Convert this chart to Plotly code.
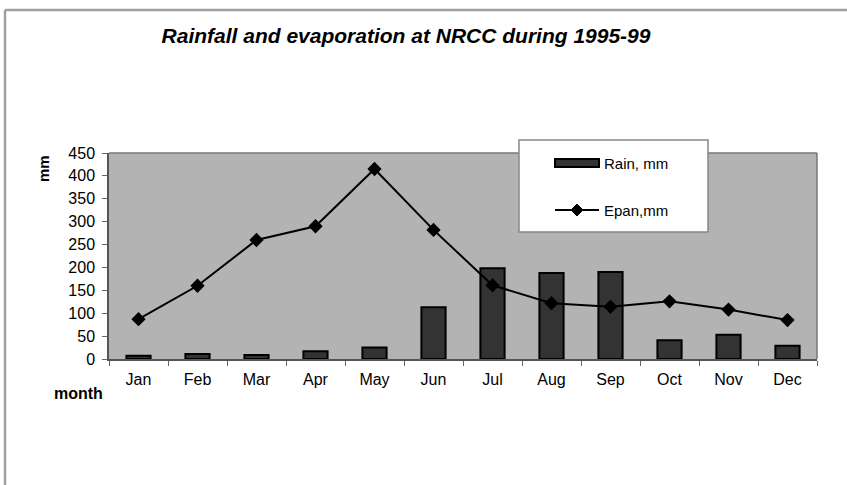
import plotly.graph_objects as go

months = ["Jan", "Feb", "Mar", "Apr", "May", "Jun", "Jul", "Aug", "Sep", "Oct", "Nov", "Dec"]
rain_mm = [7, 11, 9, 17, 25, 113, 198, 188, 190, 41, 53, 29]
epan_mm = [87, 160, 260, 290, 415, 282, 161, 122, 114, 126, 108, 85]
y_ticks = [0, 50, 100, 150, 200, 250, 300, 350, 400, 450]

FONT = "Liberation Sans, Arial, sans-serif"
W, H = 847, 485
L, R, T, B = 109, 30, 153, 126
PW, PH = W - L - R, H - T - B


def px(x):
    """Pixel column -> paper x."""
    return (x - L) / PW


def py(y):
    """Pixel row -> paper y."""
    return (H - B - y) / PH


fig = go.Figure()
fig.add_trace(go.Bar(
    x=months, y=rain_mm, name="Rain, mm",
    marker=dict(color="#333333", line=dict(color="#000000", width=2)),
    width=0.41,
))
fig.add_trace(go.Scatter(
    x=months, y=epan_mm, name="Epan,mm", mode="lines+markers",
    line=dict(color="#000000", width=2),
    marker=dict(symbol="diamond", size=11, color="#000000"),
))

fig.update_layout(
    width=W, height=H,
    margin=dict(l=L, r=R, t=T, b=B),
    paper_bgcolor="#ffffff",
    plot_bgcolor="#b3b3b3",
    font=dict(family=FONT, size=16, color="#000000"),
    title=dict(
        text="<b><i>Rainfall and evaporation at NRCC during 1995-99</i></b>",
        font=dict(family=FONT, size=21, color="#000000"),
        xref="container", x=406 / W, xanchor="center",
        yref="container", y=1 - 36 / H, yanchor="middle",
    ),
    showlegend=False,
)

fig.update_xaxes(
    type="category", range=[-0.5, 11.5], showgrid=False,
    showline=True, linecolor="#555555", linewidth=1.5,
    ticks="outside", tickson="boundaries", ticklen=5, tickcolor="#666666",
    ticklabelstandoff=5,
    tickfont=dict(family=FONT, size=16, color="#000000"),
)
fig.update_yaxes(
    range=[0, 450], tickvals=y_ticks, showgrid=False,
    showline=True, linecolor="#555555", linewidth=1.5,
    ticks="outside", ticklen=5, tickcolor="#666666",
    ticklabelstandoff=4,
    tickfont=dict(family=FONT, size=16, color="#000000"),
    zeroline=False,
)

# Plot area top and right edges
fig.add_shape(type="line", xref="paper", yref="paper", x0=0, x1=1, y0=1, y1=1,
              line=dict(color="#777777", width=1.5))
fig.add_shape(type="line", xref="paper", yref="paper", x0=1, x1=1, y0=0, y1=1,
              line=dict(color="#777777", width=1.5))

# Outer chart frame (top and left edges)
fig.add_shape(type="line", xref="paper", yref="paper",
              x0=px(5), x1=px(W + 5), y0=py(10), y1=py(10),
              line=dict(color="#a0a0a0", width=2.5))
fig.add_shape(type="line", xref="paper", yref="paper",
              x0=px(5), x1=px(5), y0=py(10), y1=py(H + 5),
              line=dict(color="#a0a0a0", width=2.5))

# Legend box with a wide bar swatch and a line/diamond sample
fig.add_shape(type="rect", xref="paper", yref="paper",
              x0=px(519), x1=px(708), y0=py(232), y1=py(140),
              fillcolor="#ffffff", line=dict(color="#888888", width=1.5), layer="above")
fig.add_shape(type="rect", xref="paper", yref="paper",
              x0=px(555), x1=px(599), y0=py(167), y1=py(159),
              fillcolor="#333333", line=dict(color="#000000", width=2), layer="above")
fig.add_shape(type="line", xref="paper", yref="paper",
              x0=px(555), x1=px(599), y0=py(210), y1=py(210),
              line=dict(color="#000000", width=2), layer="above")
fig.add_shape(type="path", xref="paper", yref="paper",
              xsizemode="pixel", ysizemode="pixel",
              xanchor=px(577), yanchor=py(210),
              path="M 0,6 L 6,0 L 0,-6 L -6,0 Z",
              fillcolor="#000000", line=dict(color="#000000", width=1), layer="above")
fig.add_annotation(text="Rain, mm", xref="paper", yref="paper",
                   x=px(602), y=py(163), xanchor="left", yanchor="middle",
                   showarrow=False, font=dict(family=FONT, size=15, color="#000000"))
fig.add_annotation(text="Epan,mm", xref="paper", yref="paper",
                   x=px(602), y=py(210), xanchor="left", yanchor="middle",
                   showarrow=False, font=dict(family=FONT, size=15, color="#000000"))

# Axis titles
fig.add_annotation(text="<b>mm</b>", xref="paper", yref="paper",
                   x=px(43), y=py(169), xanchor="center", yanchor="middle", textangle=-90,
                   showarrow=False, font=dict(family=FONT, size=15, color="#000000"))
fig.add_annotation(text="<b>month</b>", xref="paper", yref="paper",
                   x=px(78), y=py(393), xanchor="center", yanchor="middle",
                   showarrow=False, font=dict(family=FONT, size=16, color="#000000"))

fig.write_html("out.html")
